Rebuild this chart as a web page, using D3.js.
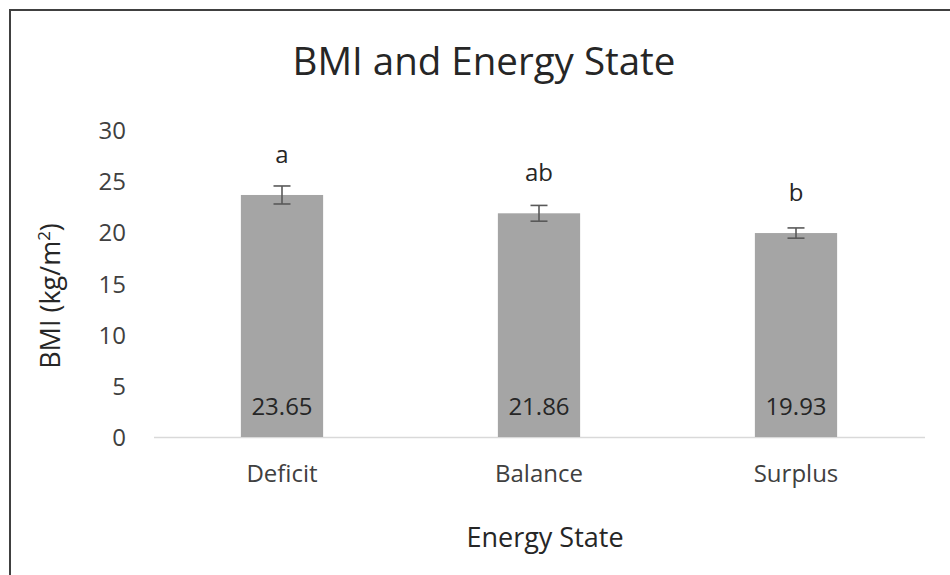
<!DOCTYPE html>
<html>
<head>
<meta charset="utf-8">
<script src="https://cdn.jsdelivr.net/npm/d3@7"></script>
<style>
  html, body { margin: 0; padding: 0; background: #fff; }
  svg { display: block; font-family: "Open Sans", sans-serif; }
</style>
</head>
<body>
<svg id="chart" width="950" height="575"></svg>
<script>
const categories = ["Deficit", "Balance", "Surplus"];
const values = [23.65, 21.86, 19.93];
const errors = [0.88, 0.77, 0.5];
const sigLetters = ["a", "ab", "b"];
const yTicks = [0, 5, 10, 15, 20, 25, 30];
const titleText = "BMI and Energy State";
const xTitle = "Energy State";

const svg = d3.select("#chart");
const FONT = "'Open Sans', sans-serif";

// border (only left & top visible, extends beyond window)
svg.append("rect")
  .attr("x", 10).attr("y", 10)
  .attr("width", 960).attr("height", 600)
  .attr("fill", "none").attr("stroke", "#404040").attr("stroke-width", 2);

const x = d3.scaleBand().domain(categories).range([153.5, 924.5]).paddingInner(0.68).paddingOuter(0.34);
const y = d3.scaleLinear().domain([0, 30]).range([437, 130]);

// y axis labels
const yAxis = d3.axisLeft(y).tickValues(yTicks).tickSize(0).tickPadding(0);
const gy = svg.append("g").attr("transform", "translate(126,0)").call(yAxis);
gy.select(".domain").remove();
gy.selectAll("text").attr("font-size", 24).attr("fill", "#404040").attr("font-family", FONT).attr("dy", "0.36em");

// x axis
const xAxis = d3.axisBottom(x).tickSize(0).tickPadding(28);
const gx = svg.append("g").attr("transform", `translate(0,${y(0)})`).call(xAxis);
gx.select(".domain").attr("stroke", "#d9d9d9").attr("stroke-width", 1.5);
gx.selectAll("text").attr("font-size", 24).attr("fill", "#404040").attr("font-family", FONT);

// bars
svg.selectAll("rect.bar").data(values).enter().append("rect")
  .attr("class", "bar")
  .attr("x", (d, i) => x(categories[i]))
  .attr("y", d => y(d))
  .attr("width", x.bandwidth())
  .attr("height", d => y(0) - y(d))
  .attr("fill", "#a5a5a5");

// error bars
const eb = svg.selectAll("g.err").data(values).enter().append("g").attr("class", "err");
eb.each(function(d, i) {
  const g = d3.select(this);
  const cx = x(categories[i]) + x.bandwidth() / 2;
  const top = y(d + errors[i]), bot = y(d - errors[i]);
  g.append("line").attr("x1", cx).attr("x2", cx).attr("y1", top).attr("y2", bot);
  g.append("line").attr("x1", cx - 8.5).attr("x2", cx + 8.5).attr("y1", top).attr("y2", top);
  g.append("line").attr("x1", cx - 8.5).attr("x2", cx + 8.5).attr("y1", bot).attr("y2", bot);
  g.selectAll("line").attr("stroke", "#595959").attr("stroke-width", 1.6);
});

// value labels
svg.selectAll("text.val").data(values).enter().append("text")
  .attr("class", "val")
  .attr("x", (d, i) => x(categories[i]) + x.bandwidth() / 2)
  .attr("y", 415)
  .attr("text-anchor", "middle")
  .attr("font-size", 24).attr("fill", "#262626")
  .text(d => d.toFixed(2));

// significance letters
svg.selectAll("text.sig").data(values).enter().append("text")
  .attr("class", "sig")
  .attr("x", (d, i) => x(categories[i]) + x.bandwidth() / 2)
  .attr("y", d => y(d) - 32)
  .attr("text-anchor", "middle")
  .attr("font-size", 24).attr("fill", "#262626")
  .text((d, i) => sigLetters[i]);

// title
svg.append("text").attr("x", 484).attr("y", 75).attr("text-anchor", "middle")
  .attr("font-size", 38.5).attr("fill", "#262626").text(titleText);

// x title
svg.append("text").attr("x", 545).attr("y", 547).attr("text-anchor", "middle")
  .attr("font-size", 27).attr("fill", "#262626").text(xTitle);

// y title
const yt = svg.append("text")
  .attr("transform", "translate(60,296) rotate(-90)")
  .attr("text-anchor", "middle")
  .attr("font-size", 27).attr("fill", "#262626");
yt.append("tspan").text("BMI (kg/m");
yt.append("tspan").attr("font-size", 17).attr("dy", -10).text("2");
yt.append("tspan").attr("dy", 10).text(")");
</script>
</body>
</html>
